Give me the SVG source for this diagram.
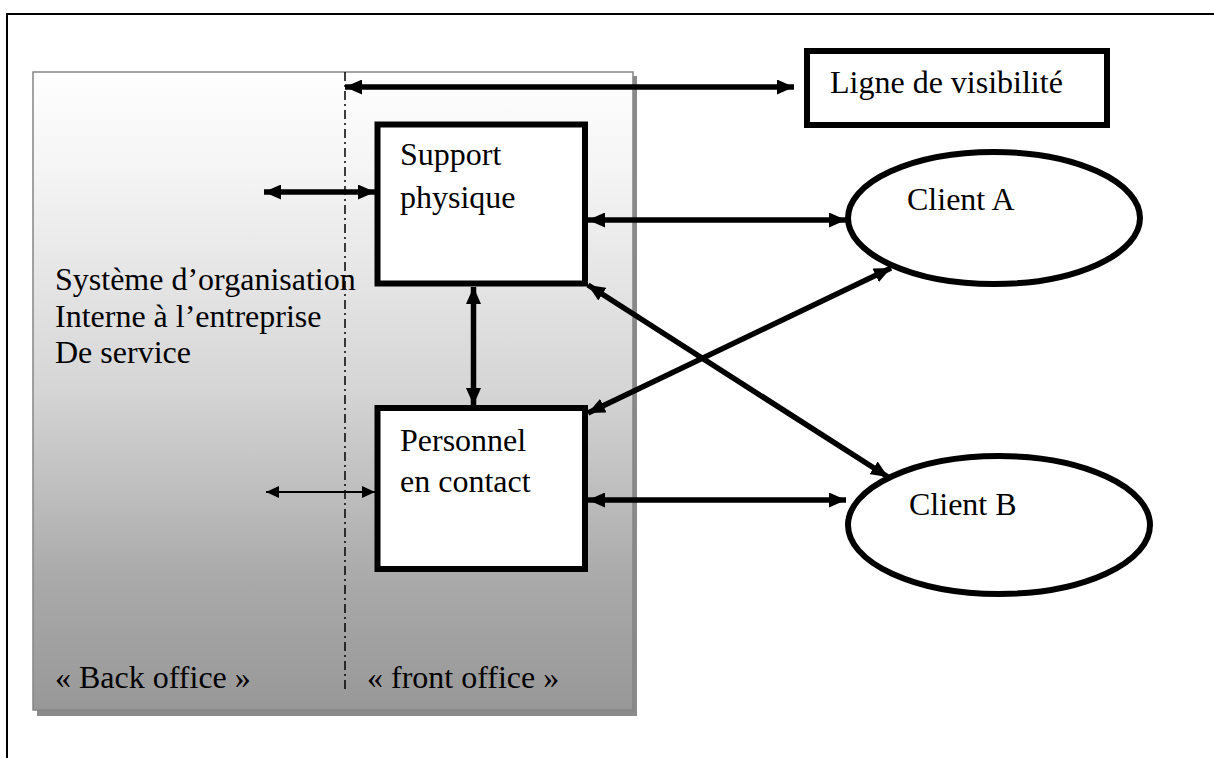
<svg xmlns="http://www.w3.org/2000/svg" width="1214" height="758" viewBox="0 0 1214 758">
<style>
text{font-family:'Liberation Serif','Times New Roman','DejaVu Serif',serif;font-size:32px;fill:#000}
.box{fill:#fff;stroke:#000;stroke-width:6}
.thick{stroke:#000;stroke-width:5.5;fill:none;marker-start:url(#ah);marker-end:url(#ah)}
.thin{stroke:#000;stroke-width:2.2;fill:none;marker-start:url(#as);marker-end:url(#as)}
</style>
<defs>
<linearGradient id="g" x1="0" y1="0" x2="0" y2="1">
<stop offset="0" stop-color="#fefefe"/>
<stop offset="0.15" stop-color="#f5f5f5"/>
<stop offset="0.5" stop-color="#d5d5d5"/>
<stop offset="0.8" stop-color="#a9a9a9"/>
<stop offset="1" stop-color="#989898"/>
</linearGradient>
<marker id="ah" viewBox="0 0 17 15" refX="17" refY="7.5" markerWidth="17" markerHeight="15" markerUnits="userSpaceOnUse" orient="auto-start-reverse">
<path d="M0,0 L17,7.5 L0,15 z" fill="#000"/>
</marker>
<marker id="as" viewBox="0 0 13 12" refX="13" refY="6" markerWidth="13" markerHeight="12" markerUnits="userSpaceOnUse" orient="auto-start-reverse">
<path d="M0,0 L13,6 L0,12 z" fill="#000"/>
</marker>
</defs>
<rect x="0" y="0" width="1214" height="758" fill="#fff"/>
<rect x="7" y="14" width="1220" height="760" fill="none" stroke="#000" stroke-width="2"/>
<g id="organisation">
<rect x="37" y="76" width="600" height="640" fill="#8a8a8a"/>
<rect x="33" y="72" width="600" height="638" fill="url(#g)" stroke="#858585" stroke-width="1.5"/>
<line x1="345" y1="72" x2="345" y2="692" stroke="#000" stroke-width="1.5" stroke-dasharray="9 4 2 4"/>
<text x="55" y="290">Système d’organisation</text>
<text x="55" y="327">Interne à l’entreprise</text>
<text x="55" y="363">De service</text>
<text x="55" y="688">« Back office »</text>
<text x="367" y="688">« front office »</text>
</g>
<g id="visibilite">
<rect class="box" x="807" y="51" width="300" height="74"/>
<text x="830" y="93">Ligne de visibilité</text>
</g>
<g id="support">
<rect class="box" x="377.5" y="124.5" width="207.5" height="159"/>
<text x="400" y="165">Support</text>
<text x="400" y="208">physique</text>
</g>
<g id="personnel">
<rect class="box" x="377.5" y="408" width="207.5" height="161"/>
<text x="400" y="451">Personnel</text>
<text x="400" y="492">en contact</text>
</g>
<g id="clientA">
<ellipse cx="994" cy="218" rx="146" ry="66" fill="#fff" stroke="#000" stroke-width="6"/>
<text x="907" y="210">Client A</text>
</g>
<g id="clientB">
<ellipse cx="999" cy="525" rx="151" ry="69" fill="#fff" stroke="#000" stroke-width="6"/>
<text x="909" y="515">Client B</text>
</g>
<g id="connectors">
<line class="thick" x1="345" y1="87" x2="794" y2="87"/>
<line class="thick" x1="264" y1="192" x2="375" y2="192"/>
<line class="thin" x1="266" y1="492" x2="375" y2="492"/>
<line class="thick" x1="473.5" y1="287" x2="473.5" y2="405"/>
<line class="thick" x1="588" y1="220" x2="846" y2="220"/>
<line class="thick" x1="588" y1="500" x2="846" y2="500"/>
<line class="thick" x1="588" y1="285" x2="888" y2="477"/>
<line class="thick" x1="588" y1="413" x2="891" y2="268"/>
</g>
</svg>
